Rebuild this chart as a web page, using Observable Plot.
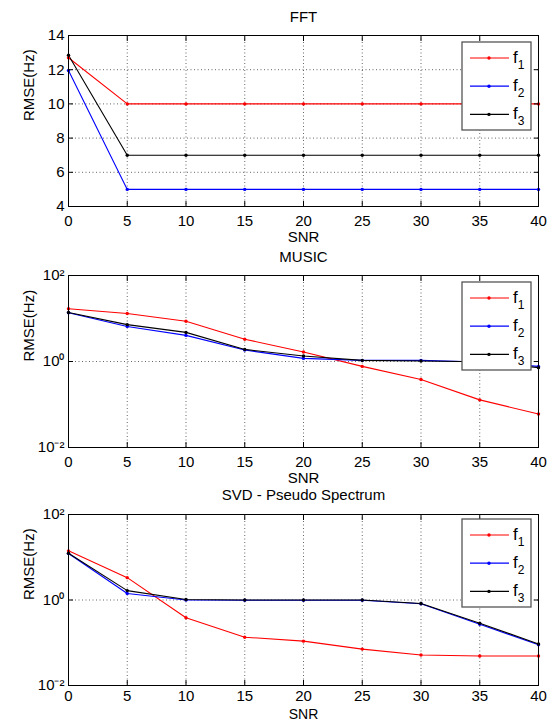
<!DOCTYPE html>
<html><head><meta charset="utf-8">
<script src="https://cdn.jsdelivr.net/npm/d3@7"></script>
<script src="https://cdn.jsdelivr.net/npm/@observablehq/plot@0.6"></script>
<style>
body{margin:0;background:#fff;}
#wrap{position:relative;width:553px;height:721px;overflow:hidden;font-family:"Liberation Sans",Arial,sans-serif;}
#wrap svg{display:block;}
.legend{position:absolute;}
</style></head><body><div id="wrap"></div>
<script>
// ---- data ----
const snr = [0, 5, 10, 15, 20, 25, 30, 35, 40];
const seriesNames = ["f1", "f2", "f3"];
const seriesColors = ["#ff0000", "#0000ff", "#000000"];

const fftF1 = [12.7, 10, 10, 10, 10, 10, 10, 10, 10];
const fftF2 = [11.95, 5, 5, 5, 5, 5, 5, 5, 5];
const fftF3 = [12.85, 7, 7, 7, 7, 7, 7, 7, 7];

const musicF1 = [16.8, 13.1, 8.6, 3.3, 1.66, 0.77, 0.38, 0.128, 0.060];
const musicF2 = [13.6, 6.5, 4.05, 1.85, 1.18, 1.06, 1.06, 0.97, 0.77];
const musicF3 = [13.8, 7.2, 4.75, 1.91, 1.34, 1.06, 1.03, 0.99, 0.72];

const svdF1 = [14.1, 3.33, 0.385, 0.135, 0.109, 0.071, 0.0515, 0.0489, 0.0489];
const svdF2 = [12.2, 1.42, 1.0, 0.99, 0.99, 0.99, 0.815, 0.27, 0.0895];
const svdF3 = [12.45, 1.66, 1.03, 1.0, 1.0, 1.0, 0.83, 0.285, 0.094];

const xTicks = [0, 5, 10, 15, 20, 25, 30, 35, 40];
const xGrid = [5, 10, 15, 20, 25, 30, 35];
const fftYTicks = [4, 6, 8, 10, 12, 14];
const fftYGrid = [6, 8, 10, 12];
const logYTicks = [0.01, 1, 100];
const logYLabels = ["10\u207B\u00B2", "10\u2070", "10\u00B2"];
const logYGrid = [1];

const titles = ["FFT", "MUSIC", "SVD - Pseudo Spectrum"];
const xLabel = "SNR";
const yLabel = "RMSE(Hz)";

// ---- build ----
function rows(f1, f2, f3) {
  const out = [];
  [f1, f2, f3].forEach((arr, k) => arr.forEach((v, i) => out.push({snr: snr[i], s: seriesNames[k], v})));
  return out;
}

const W = 553, ML = 68, MR = 15;
const font = "'Liberation Sans', Arial, Helvetica, sans-serif";
const wrap = document.getElementById("wrap");

function panel(cfg) {
  const data = rows(...cfg.series);
  const p = Plot.plot({
    width: W, height: cfg.height,
    marginLeft: ML, marginRight: MR, marginTop: cfg.mt, marginBottom: cfg.mb,
    style: {fontSize: "15px", fontFamily: font, background: "#fff", color: "#000", overflow: "visible"},
    x: {domain: [0, 40]},
    y: {type: cfg.type, domain: cfg.domain},
    color: {domain: seriesNames, range: seriesColors},
    marks: [
      Plot.gridX(xGrid, {stroke: "#000", strokeOpacity: 0.6, strokeDasharray: "1,2.5"}),
      Plot.gridY(cfg.grid, {stroke: "#000", strokeOpacity: 0.6, strokeDasharray: "1,2.5"}),
      Plot.line(data, {x: "snr", y: "v", z: "s", stroke: "s", strokeWidth: 1.1}),
      Plot.dot(data, {x: "snr", y: "v", fill: "s", r: 1.7}),
      Plot.frame({stroke: "#000", strokeWidth: 1}),
      Plot.axisX({anchor: "bottom", ticks: xTicks, tickSize: -5, tickPadding: cfg.xPad, label: null}),
      Plot.axisX({anchor: "top", ticks: xTicks, tickSize: -5, tickFormat: () => "", label: null}),
      Plot.axisY({anchor: "left", ticks: cfg.ticks, tickSize: -5, tickPadding: 9, label: null,
        tickFormat: cfg.tickFormat}),
      Plot.axisY({anchor: "right", ticks: cfg.ticks, tickSize: -5, tickFormat: () => "", label: null}),
      Plot.text([cfg.title], {text: d => d, frameAnchor: "top", dy: cfg.titleDy, lineAnchor: "middle", fontSize: 15}),
      Plot.text([xLabel], {text: d => d, frameAnchor: "bottom", dy: cfg.xlDy, lineAnchor: "middle", fontSize: cfg.xlSize}),
      Plot.text([yLabel], {text: d => d, frameAnchor: "left", dx: -39, rotate: -90, lineAnchor: "middle", fontSize: 15})
    ]
  });
  wrap.appendChild(p);

  // legend (MATLAB-style box)
  const lg = d3.create("svg").attr("width", 71).attr("height", 90)
    .attr("class", "legend")
    .style("left", "461px").style("top", (cfg.pageTop + cfg.mt + cfg.legendDy - 1) + "px");
  lg.append("rect").attr("x", 1).attr("y", 1).attr("width", 69).attr("height", 88)
    .attr("fill", "#fff").attr("stroke", "#555").attr("stroke-width", 1.3);
  seriesNames.forEach((s, k) => {
    const cy = 17 + k * 28.2;
    lg.append("line").attr("x1", 9).attr("x2", 48).attr("y1", cy).attr("y2", cy)
      .attr("stroke", seriesColors[k]).attr("stroke-width", 1.2);
    lg.append("circle").attr("cx", 28).attr("cy", cy).attr("r", 1.7).attr("fill", seriesColors[k]);
    const t = lg.append("text").attr("x", 52).attr("y", cy + 5)
      .attr("font-family", font).attr("font-size", 17).attr("fill", "#000");
    t.append("tspan").text("f");
    t.append("tspan").attr("dy", 6).attr("font-size", 12).text(s.slice(1));
  });
  wrap.appendChild(lg.node());
}

const logFmt = d => logYLabels[logYTicks.indexOf(d)] ?? "";

panel({title: titles[0], series: [fftF1, fftF2, fftF3], type: "linear", domain: [4, 14],
  ticks: fftYTicks, grid: fftYGrid, tickFormat: d => String(d), xPad: 14, xlSize: 15,
  height: 246, mt: 35, mb: 40, titleDy: -18, xlDy: 31, pageTop: 0, legendDy: 7});
panel({title: titles[1], series: [musicF1, musicF2, musicF3], type: "log", domain: [0.01, 100],
  ticks: logYTicks, grid: logYGrid, tickFormat: logFmt, xPad: 14, xlSize: 15,
  height: 240, mt: 29, mb: 39, titleDy: -18, xlDy: 31, pageTop: 246, legendDy: 7});
panel({title: titles[2], series: [svdF1, svdF2, svdF3], type: "log", domain: [0.01, 100],
  ticks: logYTicks, grid: logYGrid, tickFormat: logFmt, xPad: 10, xlSize: 14,
  height: 235, mt: 28, mb: 36, titleDy: -19, xlDy: 29, pageTop: 486, legendDy: 5});
</script></body></html>
